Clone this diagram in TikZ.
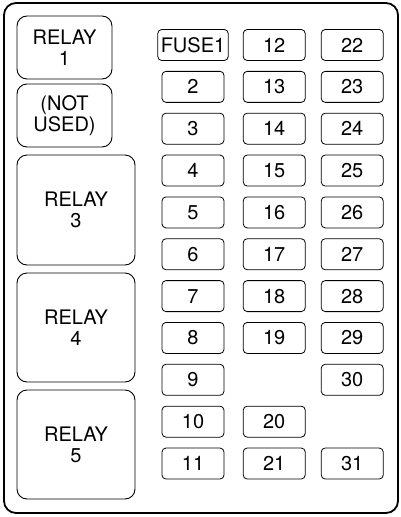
\documentclass[tikz,border=0pt]{standalone}
\usepackage{fontspec}
\setmainfont{TeX Gyre Heros}
\usetikzlibrary{positioning}

\begin{document}
\begin{tikzpicture}[
    x=1pt, y=-1pt,
    node distance=10.85pt and 16pt,
    every node/.style={font=\fontsize{20}{21}\selectfont},
    relay/.style={draw, line width=0.9pt, rounded corners=10pt, align=center, inner sep=0pt, outer sep=0pt},
    fuse/.style={draw, line width=0.8pt, rounded corners=4pt, minimum width=62pt, minimum height=31pt, inner sep=3pt, outer sep=0pt}
]
    \useasboundingbox (0,0) rectangle (400,517);
    % Housing
    \draw[line width=1.8pt, rounded corners=12pt] (4,3) rectangle (398,513);

    % Relays
    \node[relay, minimum width=95pt, minimum height=63pt] (relay1) at (64.5,47.5) {RELAY\\1};
    \node[relay, minimum width=95pt, minimum height=63pt, below=5pt of relay1] (notused) {(NOT\\USED)};
    \node[relay, minimum width=118pt, minimum height=110pt, below right=8pt and 0pt of notused.south west] (relay3) {RELAY\\3};
    \node[relay, minimum width=118pt, minimum height=109pt, below=8pt of relay3] (relay4) {RELAY\\4};
    \node[relay, minimum width=118pt, minimum height=109pt, below=8pt of relay4] (relay5) {RELAY\\5};

    % Fuses, first column
    \node[fuse] (fuse1) at (193,45) {FUSE1};
    \node[fuse, below=of fuse1] (f2) {2};
    \node[fuse, below=of f2] (f3) {3};
    \node[fuse, below=of f3] (f4) {4};
    \node[fuse, below=of f4] (f5) {5};
    \node[fuse, below=of f5] (f6) {6};
    \node[fuse, below=of f6] (f7) {7};
    \node[fuse, below=of f7] (f8) {8};
    \node[fuse, below=of f8] (f9) {9};
    \node[fuse, below=of f9] (f10) {10};
    \node[fuse, below=of f10] (f11) {11};

    % Fuses, second column
    \node[fuse, right=15pt of fuse1] (f12) {12};
    \node[fuse, below=of f12] (f13) {13};
    \node[fuse, below=of f13] (f14) {14};
    \node[fuse, below=of f14] (f15) {15};
    \node[fuse, below=of f15] (f16) {16};
    \node[fuse, below=of f16] (f17) {17};
    \node[fuse, below=of f17] (f18) {18};
    \node[fuse, below=of f18] (f19) {19};
    \node[fuse] (f20) at (f10 -| f12) {20};
    \node[fuse, below=of f20] (f21) {21};

    % Fuses, third column
    \node[fuse, right=of f12] (f22) {22};
    \node[fuse, below=of f22] (f23) {23};
    \node[fuse, below=of f23] (f24) {24};
    \node[fuse, below=of f24] (f25) {25};
    \node[fuse, below=of f25] (f26) {26};
    \node[fuse, below=of f26] (f27) {27};
    \node[fuse, below=of f27] (f28) {28};
    \node[fuse, below=of f28] (f29) {29};
    \node[fuse, below=of f29] (f30) {30};
    \node[fuse] (f31) at (f11 -| f22) {31};
\end{tikzpicture}
\end{document}
